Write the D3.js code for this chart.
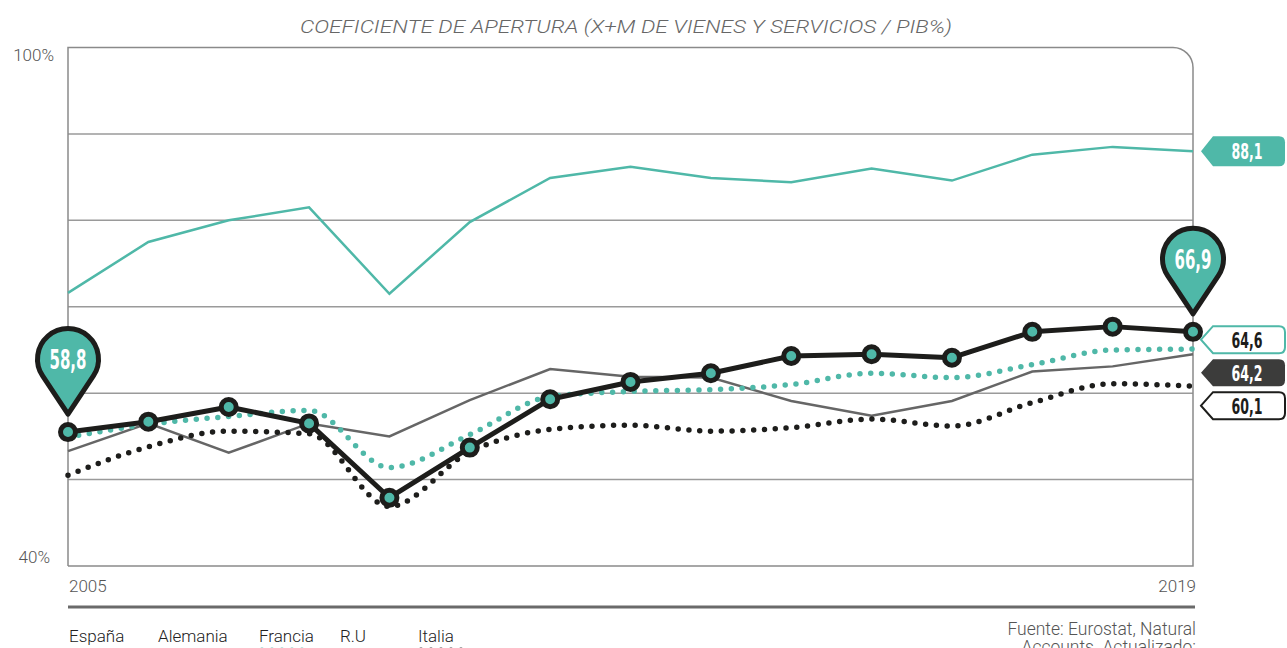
<!DOCTYPE html>
<html><head><meta charset="utf-8">
<script src="https://cdn.jsdelivr.net/npm/d3@7"></script>
<style>
body{margin:0;background:#fff;}
svg{display:block;}
</style></head><body>
<svg id="c" width="1287" height="648"></svg>
<script>
const years = [2005,2006,2007,2008,2009,2010,2011,2012,2013,2014,2015,2016,2017,2018,2019];
const espana   = [55.5,56.7,58.4,56.5,47.9,53.7,59.3,61.3,62.3,64.3,64.5,64.1,67.1,67.7,67.1];
const alemania = [71.6,77.5,80.0,81.5,71.5,79.8,84.9,86.2,84.9,84.4,86.0,84.6,87.6,88.5,88.0];
const francia  = [54.9,56.4,57.3,58.0,51.4,55.2,59.6,60.2,60.4,61.0,62.3,61.8,63.3,65.0,65.1];
const ru       = [53.3,56.5,53.1,56.5,55.0,59.2,62.8,61.9,61.8,59.1,57.4,59.1,62.5,63.1,64.5];
const italia   = [50.5,53.8,55.6,55.3,46.9,53.2,55.8,56.3,55.6,56.0,57.0,56.2,58.9,61.1,60.8];
const yTicks = [40,50,60,70,80,90,100];
const yTickLabels = ["40%","100%"];
const xTickLabels = ["2005","2019"];
const pinLabels = ["58,8","66,9"];
const tagLabels = {alemania:"88,1", francia:"64,6", ru:"64,2", italia:"60,1"};
const legendNames = ["España","Alemania","Francia","R.U","Italia"];
const title = "COEFICIENTE DE APERTURA (X+M DE VIENES Y SERVICIOS / PIB%)";
const source = ["Fuente: Eurostat, Natural","Accounts. Actualizado:"];

const TEAL="#4fb8a8", DARK="#1d1d1b", GRAY="#666666", DKTAG="#3c3c3b";
const COND="'DejaVu Sans Condensed','DejaVu Sans'";
const svg = d3.select("#c");
const x = d3.scaleLinear().domain([2005,2019]).range([68,1193]);
const y = d3.scaleLinear().domain([40,100]).range([566,47.5]);

// title
svg.append("text").attr("x",626).attr("y",33).attr("text-anchor","middle")
  .attr("font-family","Roboto").attr("font-style","italic").attr("font-weight",300)
  .attr("font-size",19).attr("fill","#666")
  .attr("textLength",652).attr("lengthAdjust","spacingAndGlyphs").text(title);

// gridlines
svg.append("g").selectAll("line").data(yTicks.filter(d=>d>40&&d<100)).join("line")
  .attr("x1",x(2005)).attr("x2",x(2019)).attr("y1",d=>y(d)).attr("y2",d=>y(d))
  .attr("stroke","#9a9a9a").attr("stroke-width",1.5);
// frame
const r=20;
svg.append("path").attr("fill","none").attr("stroke","#8a8a8a").attr("stroke-width",1.5)
  .attr("d",`M${x(2005)},${y(40)}V${y(100)}H${x(2019)-r}A${r},${r} 0 0 1 ${x(2019)},${y(100)+r}V${y(40)}H${x(2005)}`);
// y labels
svg.append("text").attr("x",54).attr("y",y(100)+13).attr("text-anchor","end")
  .attr("font-family","Roboto").attr("font-weight",300).attr("font-size",17).attr("fill","#555").text(yTickLabels[1]);
svg.append("text").attr("x",50).attr("y",y(40)-3).attr("text-anchor","end")
  .attr("font-family","Roboto").attr("font-weight",300).attr("font-size",17).attr("fill","#555").text(yTickLabels[0]);
// x labels
svg.append("text").attr("x",x(2005)+1).attr("y",592).attr("font-family","Roboto").attr("font-weight",300).attr("font-size",17).attr("fill","#555").text(xTickLabels[0]);
svg.append("text").attr("x",x(2019)+3).attr("y",592).attr("text-anchor","end").attr("font-family","Roboto").attr("font-weight",300).attr("font-size",17).attr("fill","#555").text(xTickLabels[1]);
// bottom rule
svg.append("line").attr("x1",x(2005)).attr("x2",x(2019)+2).attr("y1",607).attr("y2",607).attr("stroke","#6a6a6a").attr("stroke-width",3);

const lineStraight = d3.line().x((d,i)=>x(years[i])).y(d=>y(d));
const lineCurve = d3.line().x((d,i)=>x(years[i])).y(d=>y(d)).curve(d3.curveMonotoneX);

svg.append("path").datum(alemania).attr("d",lineStraight).attr("fill","none").attr("stroke",TEAL).attr("stroke-width",2.5);
svg.append("path").datum(ru).attr("d",lineStraight).attr("fill","none").attr("stroke",GRAY).attr("stroke-width",2.5);
svg.append("path").datum(italia).attr("d",lineCurve).attr("fill","none").attr("stroke",DARK).attr("stroke-width",5.5)
  .attr("stroke-linecap","round").attr("stroke-dasharray","0 10.8");
svg.append("path").datum(francia).attr("d",lineCurve).attr("fill","none").attr("stroke",TEAL).attr("stroke-width",5.5)
  .attr("stroke-linecap","round").attr("stroke-dasharray","0 10.8");
svg.append("path").datum(espana).attr("d",lineStraight).attr("fill","none").attr("stroke",DARK).attr("stroke-width",5).attr("stroke-linejoin","round");
svg.append("g").selectAll("circle").data(espana).join("circle")
  .attr("cx",(d,i)=>x(years[i])).attr("cy",d=>y(d)).attr("r",7.5)
  .attr("fill",TEAL).attr("stroke",DARK).attr("stroke-width",5);

// pins
function pin(cx, tipY, label){
  const d=55, rr=30.5, cosp=rr/d, sinp=Math.sqrt(1-cosp*cosp);
  const tx=rr*sinp, ty=-d+rr*cosp;
  const g=svg.append("g").attr("transform",`translate(${cx},${tipY})`);
  g.append("path").attr("d",`M0,0L${-tx},${ty}A${rr},${rr} 0 1 1 ${tx},${ty}Z`)
    .attr("fill",TEAL).attr("stroke",DARK).attr("stroke-width",5).attr("stroke-linejoin","round");
  g.append("text").attr("x",0).attr("y",-d+10).attr("text-anchor","middle")
    .attr("font-family",COND).attr("font-weight",700)
    .attr("font-size",27).attr("fill","#fff")
    .attr("textLength",37).attr("lengthAdjust","spacingAndGlyphs").text(label);
}
pin(x(2005), y(espana[0])-18, pinLabels[0]);
pin(x(2019), y(espana[14])-18, pinLabels[1]);

// tags
function tag(cy, h, label, fill, stroke, textFill){
  const left=1201, right=1285, rr=6;
  svg.append("path").attr("d",`M${left},${cy}L${left+12},${cy-h/2}H${right-rr}Q${right},${cy-h/2} ${right},${cy-h/2+rr}V${cy+h/2-rr}Q${right},${cy+h/2} ${right-rr},${cy+h/2}H${left+12}Z`)
    .attr("fill",fill).attr("stroke",stroke||"none").attr("stroke-width",2);
  svg.append("text").attr("x",1247).attr("y",cy+8).attr("text-anchor","middle")
    .attr("font-family",COND).attr("font-weight",700)
    .attr("font-size",22).attr("fill",textFill)
    .attr("textLength",31).attr("lengthAdjust","spacingAndGlyphs").text(label);
}
tag(y(alemania[14]), 30, tagLabels.alemania, TEAL, null, "#fff");
// stacked tags laid out from end values
const endTags = [
  {v:francia[14], label:tagLabels.francia, fill:"#fff", stroke:TEAL, tf:DARK},
  {v:ru[14], label:tagLabels.ru, fill:DKTAG, stroke:null, tf:"#fff"},
  {v:italia[14], label:tagLabels.italia, fill:"#fff", stroke:DARK, tf:DARK}
].sort((a,b)=>b.v-a.v);
const gap=33; let disp=0;
endTags.forEach((t,i)=>{ t.y=y(t.v); if(i>0 && t.y<endTags[i-1].y+gap){ disp+= endTags[i-1].y+gap-t.y; t.y=endTags[i-1].y+gap; } });
const shift = disp/endTags.length/2;
endTags.forEach(t=>tag(t.y-shift, 27, t.label, t.fill, t.stroke, t.tf));

// legend
const legX=[69,158,259,340,418];
legendNames.forEach((n,i)=>{
  svg.append("text").attr("x",legX[i]).attr("y",642).attr("font-family","Roboto").attr("font-weight",300).attr("font-size",17).attr("fill","#222").text(n);
});
const sw = [
  {c:DARK,w:5,dash:null},{c:TEAL,w:2.5,dash:null},{c:TEAL,w:5,dash:"0 10"},{c:GRAY,w:2.5,dash:null},{c:DARK,w:5,dash:"0 10"}
];
sw.forEach((s,i)=>{
  const yy = s.dash ? 650 : 656;
  const l=svg.append("line").attr("x1",legX[i]+3).attr("x2",legX[i]+46).attr("y1",yy).attr("y2",yy)
    .attr("stroke",s.c).attr("stroke-width",s.w).attr("stroke-linecap","round");
  if(s.dash) l.attr("stroke-dasharray",s.dash);
});
// source
source.forEach((s,i)=>{
  svg.append("text").attr("x",1196).attr("y",635+i*18).attr("text-anchor","end")
    .attr("font-family","Roboto").attr("font-weight",300).attr("font-size",17.5).attr("fill","#555").text(s);
});
</script></body></html>
